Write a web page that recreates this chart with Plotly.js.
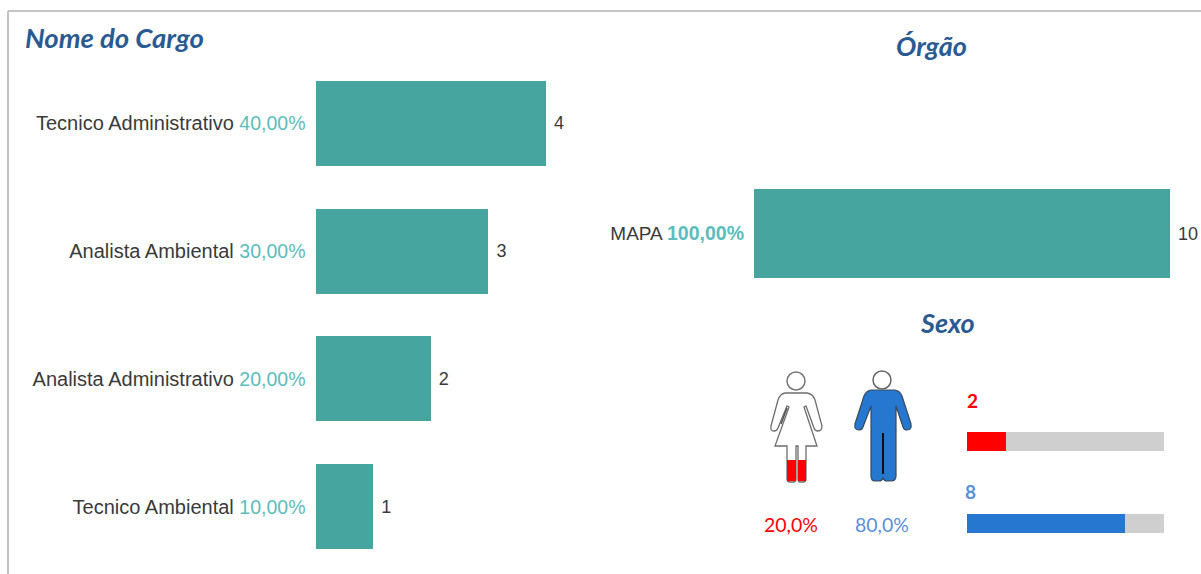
<!DOCTYPE html>
<html><head><meta charset="utf-8">
<script src="https://cdn.plot.ly/plotly-3.0.1.min.js"></script>
<style>html,body{margin:0;padding:0;background:#fff}#c{width:1201px;height:574px}</style>
</head><body><div id="c"></div>
<script>
const W = 1201, H = 574;
// data
const cargoNames = ["Tecnico Administrativo", "Analista Ambiental", "Analista Administrativo", "Tecnico Ambiental"];
const cargoValues = [4, 3, 2, 1];
const cargoPct = ["40,00%", "30,00%", "20,00%", "10,00%"];
const orgaoNames = ["MAPA"];
const orgaoValues = [10];
const orgaoPct = ["100,00%"];
const sexoValues = [2, 8];
const sexoTotal = [10, 10];
const sexoPct = ["20,0%", "80,0%"];
const sexoColors = ["#FF0000", "#2577D0"];
const sexoTextColors = ["#FF0000", "#5B8FDC"];

const TEAL = "#47A5A0", PCT = "#5BBDBD", GREY = "#CFCFCF", TITLE = "#2A5A92", TXT = "#3A3A3A";
const SANS = "Liberation Sans, Arial, sans-serif", CAL = "Lato, sans-serif";
const px = x => x / W, py = y => 1 - y / H;
const dx = (a, b) => [px(a), px(b)], dy = (top, bot) => [py(bot), py(top)];
const idx = a => a.map((_, i) => i);
const P = s => s.replace(/(-?[\d.]+) (-?[\d.]+)/g, (m, x, y) => px(+x) + " " + py(+y));

const traces = [
  {type:"bar", orientation:"h", xaxis:"x", yaxis:"y", y:idx(cargoNames), x:cargoValues,
   width:0.667, marker:{color:TEAL}, text:cargoValues.map(v=>" "+v), textposition:"outside", cliponaxis:false,
   textfont:{family:SANS,size:18,color:TXT}, hoverinfo:"skip"},
  {type:"bar", orientation:"h", xaxis:"x2", yaxis:"y2", y:idx(orgaoNames), x:orgaoValues,
   width:0.7, marker:{color:TEAL}, text:orgaoValues.map(v=>" "+v), textposition:"outside", cliponaxis:false,
   textfont:{family:SANS,size:18,color:TXT}, hoverinfo:"skip"},
  {type:"bar", orientation:"h", xaxis:"x3", yaxis:"y3", y:idx(sexoTotal), x:sexoTotal,
   width:0.232, marker:{color:GREY}, hoverinfo:"skip"},
  {type:"bar", orientation:"h", xaxis:"x3", yaxis:"y3", y:idx(sexoValues), x:sexoValues,
   width:0.232, marker:{color:sexoColors}, hoverinfo:"skip"}
];

const baseX = {showgrid:false, zeroline:false, showline:false, showticklabels:false, ticks:"", fixedrange:true};
const baseY = {showgrid:false, zeroline:false, showline:false, ticks:"", ticklen:0, fixedrange:true, tickmode:"array", autorange:false};

const tick = (n, p, bold) => `${n} <span style="color:${PCT};font-size:19.5px">${bold ? "<b>"+p+"</b>" : p}</span>`;

const man = "M 871 390 L 895 390 Q 900 391 902 396 L 911 424 Q 912 430 907 430 Q 904 430 903 427 L 896 406 L 896 476 Q 896 481 891 481 L 887 481 Q 884 481 883 478 Q 882 481 879 481 L 875 481 Q 871 481 871 476 L 871 406 L 863 427 Q 862 430 859 430 Q 854 430 855 424 L 864 396 Q 866 391 871 390 Z";
const woman = "M 785 393 L 807 393 Q 813 394 815 400 L 822 426 Q 822 431 818 431 Q 815 431 814 428 L 806 406 L 804 407 L 817 446 L 806 446 L 806 479 Q 806 482 803 482 L 800 482 Q 798 482 798 479 L 798 446 L 796 446 L 796 479 Q 796 482 793 482 L 790 482 Q 787 482 787 479 L 787 446 L 775 446 L 789 407 L 787 406 L 778 428 Q 777 431 774 431 Q 770 431 771 426 L 778 400 Q 780 394 785 393 Z";
const rect = (x0,y0,x1,y1,c) => ({type:"rect",xref:"paper",yref:"paper",x0:px(x0),x1:px(x1),y0:py(y0),y1:py(y1),fillcolor:c,line:{width:0},layer:"above"});
const circ = (cx,cy,r,col) => ({type:"circle",xref:"paper",yref:"paper",x0:px(cx-r),x1:px(cx+r),y0:py(cy-r),y1:py(cy+r),fillcolor:"#fff",line:{color:col,width:1.5},layer:"above"});
const path = (d,fill,col,w) => ({type:"path",xref:"paper",yref:"paper",path:P(d),fillcolor:fill,line:{color:col,width:w},layer:"above"});
const seg = (x0,y0,x1,y1,c,w) => ({type:"line",xref:"paper",yref:"paper",x0:px(x0),x1:px(x1),y0:py(y0),y1:py(y1),line:{color:c,width:w},layer:"above"});

const shapes = [
  seg(8,11,W,11,"#C4C4C4",2), seg(8,11,8,H,"#C4C4C4",2),
  path(woman,"#FFFFFF","#6E6E6E",1.3), circ(796,381,9,"#777777"),
  rect(787,460,796,481,"#FF0000"), rect(798,460,806,481,"#FF0000"),
  seg(787,408,781,424,"#555555",1.5),
  path(man,"#2577D0","#3A4A5A",1.2), circ(882,380,9,"#666666"),
  seg(883,433,883,474,"#111111",2)
];

const note = (text,x,y,font,anchor) => ({xref:"paper",yref:"paper",x:px(x),y:py(y),text,showarrow:false,xanchor:anchor||"center",yanchor:"middle",font});
const tf = {family:CAL,size:27,color:TITLE};
const annotations = [
  note("<b><i>Nome do Cargo</i></b>",23,37,{...tf,size:27.5},"left"),
  note("<b><i>Órgão</i></b>",931,45,tf),
  note("<b><i>Sexo</i></b>",947,322,tf),
  note(sexoPct[0],791,524,{family:CAL,size:19.5,color:sexoTextColors[0]}),
  note(sexoPct[1],882,524,{family:CAL,size:19.5,color:sexoTextColors[1]}),
  note("<b>"+sexoValues[0]+"</b>",972,400,{family:CAL,size:19,color:sexoTextColors[0]}),
  note("<b>"+sexoValues[1]+"</b>",970.5,491,{family:CAL,size:19,color:sexoTextColors[1]})
];

const layout = {
  width:W, height:H, margin:{l:0,r:0,t:0,b:0,pad:0}, showlegend:false, barmode:"overlay",
  paper_bgcolor:"#fff", plot_bgcolor:"rgba(0,0,0,0)", bargap:0,
  xaxis:{...baseX, domain:dx(315.5,546), range:[0,4], anchor:"y"},
  yaxis:{...baseY, domain:dy(59.5,570.5), range:[3.5,-0.5], anchor:"x", tickvals:idx(cargoNames),
    ticktext:cargoNames.map((n,i)=>tick(n,cargoPct[i])), ticklabelstandoff:9, tickfont:{family:SANS,size:20,color:TXT}},
  xaxis2:{...baseX, domain:dx(754,1170), range:[0,10], anchor:"y2"},
  yaxis2:{...baseY, domain:dy(170,297), range:[0.5,-0.5], anchor:"x2", tickvals:idx(orgaoNames),
    ticktext:orgaoNames.map((n,i)=>tick(n,orgaoPct[i],true)), ticklabelstandoff:9, tickfont:{family:SANS,size:19,color:TXT}},
  xaxis3:{...baseX, domain:dx(967,1164), range:[0,10], anchor:"y3"},
  yaxis3:{...baseY, domain:dy(400.5,564.5), range:[1.5,-0.5], anchor:"x3", showticklabels:false},
  shapes, annotations
};
Plotly.newPlot("c", traces, layout, {displayModeBar:false, staticPlot:true});
</script>
</body></html>
